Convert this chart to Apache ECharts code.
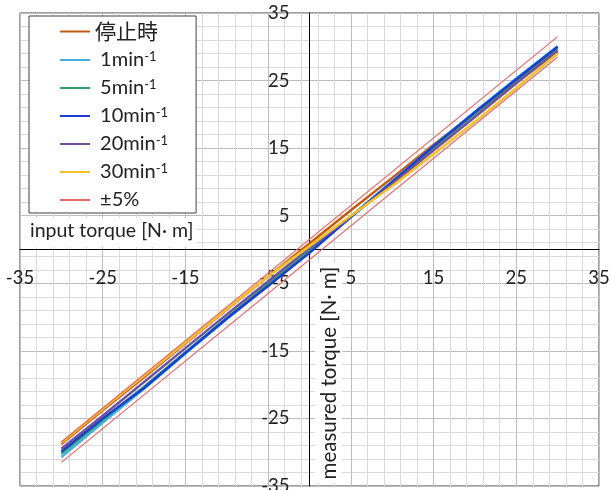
<!DOCTYPE html>
<html>
<head>
<meta charset="utf-8">
<script src="https://cdn.jsdelivr.net/npm/echarts@6/dist/echarts.min.js"></script>
<style>html,body{margin:0;padding:0;background:#fff;}#c{width:611px;height:490px;}</style>
</head>
<body>
<div id="c"></div>
<script>
var inputTorque = [-30, -25, -20, -15, -10, -5, 0, 5, 10, 15, 20, 25, 30];
var seriesNames = ['停止時', '1min-1', '5min-1', '10min-1', '20min-1', '30min-1', '±5%'];
var stopped = [-28.8, -23.8, -18.9, -13.9, -8.9, -4.0, 0.9, 5.8, 10.6, 15.5, 20.2, 24.8, 29.3];
var rpm1 = [-30.7, -25.6, -20.6, -15.4, -10.3, -5.3, -0.4, 4.9, 10.1, 15.3, 20.4, 25.3, 30.1];
var rpm5 = [-30.2, -25.2, -20.3, -15.2, -10.1, -5.1, -0.2, 4.8, 9.9, 15.1, 20.1, 25.0, 29.7];
var rpm10 = [-29.9, -25.0, -20.5, -15.3, -10.2, -5.4, -0.5, 4.8, 10.0, 15.3, 20.3, 25.2, 30.0];
var rpm20 = [-29.5, -24.6, -19.6, -14.6, -9.6, -4.7, 0.2, 4.9, 9.7, 14.7, 19.6, 24.6, 29.4];
var rpm30 = [-28.6, -23.6, -18.7, -13.8, -8.8, -4.0, 0.5, 5.0, 9.4, 14.1, 18.9, 23.9, 29.0];
var tolX = [-30, 30];
var tolUpper = [-28.5, 31.5];
var tolLower = [-31.5, 28.5];
var axisTicks = [-35, -25, -15, -5, 5, 15, 25, 35];

var colors = ['#C55A11', '#3FB0E0', '#2E9E68', '#1A3FD0', '#72509C', '#F2C12E', '#E46A6A'];
function pairs(xs, ys) { return xs.map(function (x, i) { return [x, ys[i]]; }); }
var measured = [stopped, rpm1, rpm5, rpm10, rpm20, rpm30];
var series = measured.map(function (ys, i) {
  return {
    name: seriesNames[i], type: 'line', symbol: 'none', data: pairs(inputTorque, ys),
    lineStyle: { width: 2.5, color: colors[i] }, itemStyle: { color: colors[i] }
  };
});
[tolUpper, tolLower].forEach(function (ys) {
  series.push({
    name: seriesNames[6], type: 'line', symbol: 'none', data: pairs(tolX, ys),
    lineStyle: { width: 1.2, color: colors[6] }, itemStyle: { color: colors[6] }
  });
});

var W = 611, H = 490, gl = 20, gr = 12, gt = 13, gb = 4;
var zeroXOff = -((W - gl - gr) / 2);
var zeroYOff = -((H - gt - gb) / 2);
var font = 'Lato';
function axis(isX) {
  return {
    type: 'value', min: -35, max: 35, interval: 10,
    position: isX ? 'bottom' : 'left',
    offset: isX ? zeroYOff : zeroXOff,
    axisLine: { onZero: false, lineStyle: { color: '#000', width: 1 } },
    axisTick: { show: false },
    minorTick: { show: false, splitNumber: 5 },
    splitLine: { show: true, lineStyle: { color: '#bdbdbd', width: 1 } },
    minorSplitLine: { show: true, lineStyle: { color: '#dadada', width: 1 } },
    axisLabel: {
      margin: isX ? 19 : 20, color: '#222', fontFamily: font, fontSize: 18.5,
      showMinLabel: true, showMaxLabel: true,
      customValues: axisTicks
    }
  };
}
var chart = echarts.init(document.getElementById('c'));
chart.setOption({
  animation: false,
  grid: { left: gl, right: gr, top: gt, bottom: gb, containLabel: false, outerBoundsMode: 'none', show: true, borderColor: '#404040', borderWidth: 1, backgroundColor: 'transparent' },
  xAxis: axis(true),
  yAxis: axis(false),
  legend: {
    orient: 'vertical', left: 29, top: 16,
    data: seriesNames,
    backgroundColor: '#fff', borderColor: '#404040', borderWidth: 1,
    padding: [5, 28, 3, 30], itemWidth: 30, itemHeight: 14, itemGap: 8,
    itemStyle: { opacity: 0 },
    formatter: function (n) {
      var m = n.match(/^(\d+min)(-1)$/);
      if (m) return '{t| ' + m[1] + '}{s|' + m[2] + '}';
      if (n === '±5%') return '{t| ' + n + '}';
      return '{j|' + n + '}';
    },
    textStyle: {
      color: '#222', fontFamily: font, fontSize: 20, lineHeight: 20,
      rich: {
        t: { fontFamily: "Lato, 'Noto Sans CJK JP'", fontSize: 20, lineHeight: 20, color: '#222' },
        j: { fontFamily: "'Noto Sans CJK JP'", fontSize: 21, lineHeight: 20, color: '#222' },
        s: { fontFamily: font, fontSize: 13, lineHeight: 20, verticalAlign: 'top', color: '#222' }
      }
    }
  },
  graphic: [
    { type: 'rect', left: 21, top: 218, shape: { width: 176, height: 29 }, style: { fill: '#fff' }, z: 50 },
    { type: 'text', left: 30, top: 221, style: { text: 'input torque [N· m]', fill: '#222', font: "19.5px Lato, 'Noto Sans CJK JP'" }, z: 51 },
    { type: 'rect', left: 315, top: 263, shape: { width: 27, height: 220 }, style: { fill: '#fff' }, z: 50 },
    { type: 'text', x: 329, y: 373, rotation: Math.PI / 2, style: { text: 'measured torque [N· m]', fill: '#222', font: "20.5px Lato, 'Noto Sans CJK JP'", align: 'center', verticalAlign: 'middle' }, z: 51 }
  ],
  series: series
});
</script>
</body>
</html>
